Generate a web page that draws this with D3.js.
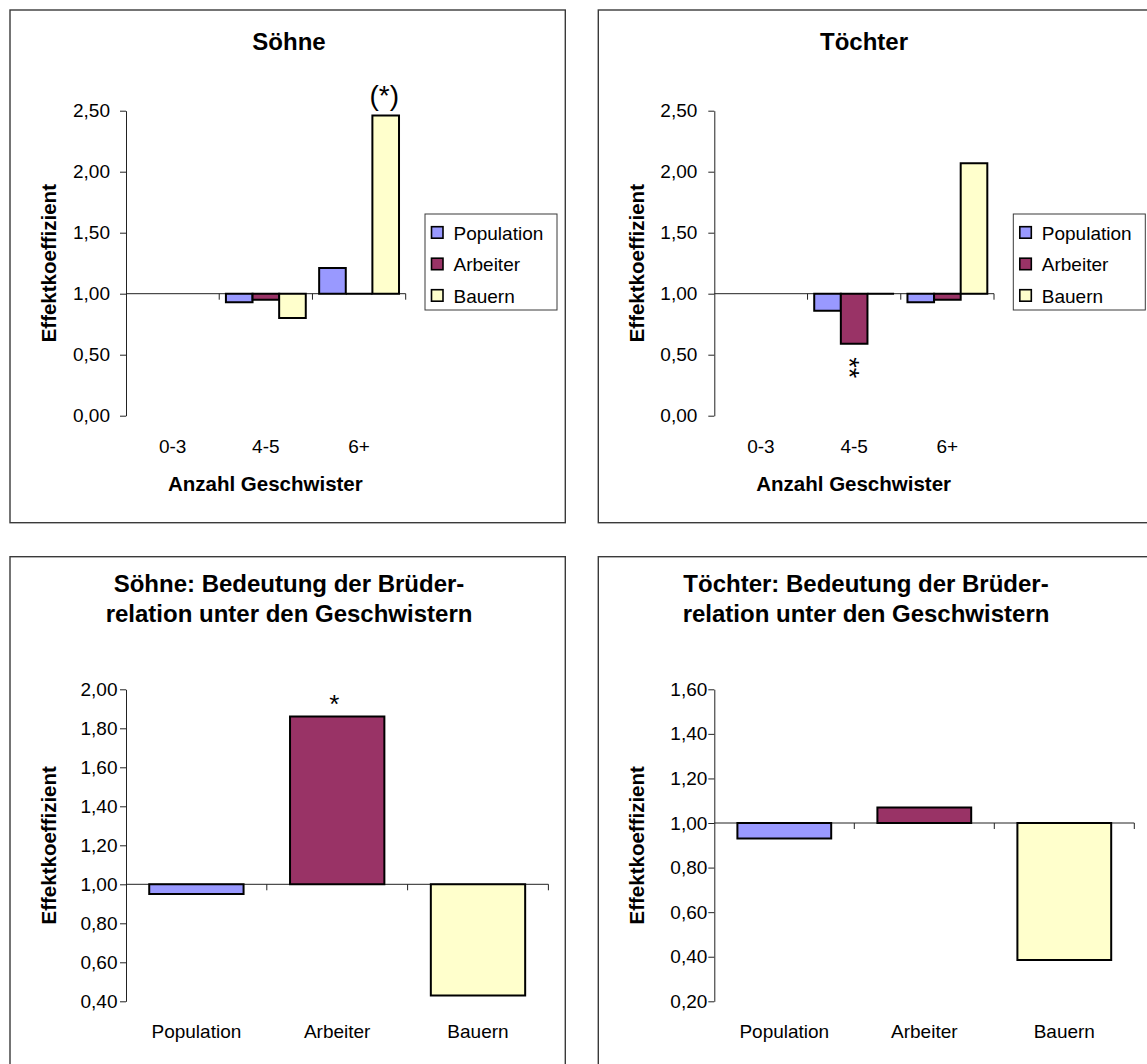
<!DOCTYPE html>
<html><head><meta charset="utf-8">
<script src="https://cdn.jsdelivr.net/npm/d3@7"></script>
<style>
body{margin:0;background:#fff}
svg{display:block}
text{font-family:"Liberation Sans",Arial,sans-serif;fill:#000}
</style>
</head><body>
<svg id="c" width="1147" height="1064"></svg>
<script>
// ---------- data ----------
const siblingCategories = ["0-3", "4-5", "6+"];
const seriesNames = ["Population", "Arbeiter", "Bauern"];
const seriesColors = ["#9999FF", "#993366", "#FFFFCC"];

const sonsPopulation = [null, 0.93, 1.21];
const sonsArbeiter   = [null, 0.95, 1.00];
const sonsBauern     = [null, 0.80, 2.46];

const daughtersPopulation = [null, 0.86, 0.93];
const daughtersArbeiter   = [null, 0.59, 0.95];
const daughtersBauern     = [null, 1.00, 2.07];

const brotherCategories = ["Population", "Arbeiter", "Bauern"];
const sonsBrotherValues = [0.95, 1.86, 0.43];
const daughtersBrotherValues = [0.93, 1.07, 0.385];

const siblingTicks = [0, 0.5, 1.0, 1.5, 2.0, 2.5];
const sonsBrotherTicks = [0.4, 0.6, 0.8, 1.0, 1.2, 1.4, 1.6, 1.8, 2.0];
const daughtersBrotherTicks = [0.2, 0.4, 0.6, 0.8, 1.0, 1.2, 1.4, 1.6];

const titles = {
  sons: ["Söhne"],
  daughters: ["Töchter"],
  sonsBrother: ["Söhne: Bedeutung der Brüder-", "relation unter den Geschwistern"],
  daughtersBrother: ["Töchter: Bedeutung der Brüder-", "relation unter den Geschwistern"]
};
const yAxisTitle = "Effektkoeffizient";
const xAxisTitle = "Anzahl Geschwister";

// ---------- helpers ----------
const fmt = d3.formatLocale({decimal: ",", thousands: ".", grouping: [3], currency: ["", "€"]}).format(".2f");
const svg = d3.select("#c");
const OX = 588.3;

function barPath(x0, w, yBase, yVal) {
  const y0 = Math.min(yBase, yVal), h = Math.abs(yBase - yVal);
  return `M${x0},${y0}h${w}v${h}h${-w}Z`;
}

function drawPanel(cfg) {
  const g = svg.append("g");
  // panel border
  g.append("rect")
    .attr("x", cfg.box[0]).attr("y", cfg.box[1])
    .attr("width", cfg.box[2]).attr("height", cfg.box[3])
    .attr("fill", "#fff").attr("stroke", "#3a3a3a").attr("stroke-width", 1.4);

  // title
  const t = g.append("text")
    .attr("text-anchor", "middle")
    .attr("font-weight", "bold").attr("font-size", cfg.titleSize);
  cfg.title.forEach((line, i) => {
    t.append("tspan").attr("x", cfg.titleX).attr("y", cfg.titleY[i]).text(line);
  });

  const y = d3.scaleLinear().domain(cfg.domain).range([cfg.plot.bottom, cfg.plot.top]);
  const xAxisBand = d3.scaleBand().domain(cfg.categories).range([cfg.plot.left, cfg.plot.right]);

  // y axis
  const yAx = d3.axisLeft(y).tickValues(cfg.ticks).tickFormat(fmt)
    .tickSize(6).tickPadding(cfg.tickPadding).tickSizeOuter(0);
  const ya = g.append("g").attr("transform", `translate(${cfg.plot.left},0)`).call(yAx);
  ya.select(".domain").attr("stroke", "#222").attr("stroke-width", 1);
  ya.selectAll(".tick line").attr("stroke", "#222");
  ya.selectAll(".tick text").attr("font-size", 19).attr("fill", "#000")
    .style("font-family", '"Liberation Sans",Arial,sans-serif');

  // x axis line at base (1,00), ticks at category boundaries
  const yb = y(1);
  g.append("line")
    .attr("x1", cfg.plot.left).attr("x2", cfg.plot.right)
    .attr("y1", yb).attr("y2", yb)
    .attr("stroke", "#222").attr("stroke-width", 1);
  g.selectAll(".xtick").data(cfg.categories).enter().append("line")
    .attr("x1", d => xAxisBand(d) + xAxisBand.bandwidth())
    .attr("x2", d => xAxisBand(d) + xAxisBand.bandwidth())
    .attr("y1", yb).attr("y2", yb + 6)
    .attr("stroke", "#222").attr("stroke-width", 1);

  // category labels
  g.selectAll(".clabel").data(cfg.categories).enter().append("text")
    .attr("x", d => xAxisBand(d) + xAxisBand.bandwidth() / 2)
    .attr("y", cfg.catLabelY)
    .attr("text-anchor", "middle").attr("font-size", 19)
    .text(d => d);

  // bars
  const bars = [];
  if (cfg.series) {
    const outer = d3.scaleBand().domain(cfg.categories).range([cfg.plot.left, cfg.plot.right])
      .paddingInner(cfg.gap).paddingOuter(cfg.gap / 2);
    const inner = d3.scaleBand().domain(seriesNames).range([0, outer.bandwidth()]);
    cfg.series.forEach((vals, si) => {
      vals.forEach((v, ci) => {
        if (v == null) return;
        const c = cfg.categories[ci];
        bars.push({x: outer(c) + inner(seriesNames[si]), w: inner.bandwidth(), v, color: seriesColors[si],
                   cat: c, ser: seriesNames[si]});
      });
    });
  } else {
    const outer = d3.scaleBand().domain(cfg.categories).range([cfg.plot.left, cfg.plot.right])
      .paddingInner(cfg.gap).paddingOuter(cfg.gap / 2);
    cfg.values.forEach((v, ci) => {
      const c = cfg.categories[ci];
      bars.push({x: outer(c), w: outer.bandwidth(), v, color: seriesColors[ci], cat: c, ser: c});
    });
  }
  g.selectAll(".bar").data(bars).enter().append("path")
    .attr("d", d => barPath(d.x, d.w, yb, y(d.v)))
    .attr("fill", d => d.color)
    .attr("stroke", "#000").attr("stroke-width", 2).attr("stroke-linejoin", "miter");

  // annotations
  (cfg.annotations || []).forEach(a => {
    const b = bars.find(d => d.cat === a.cat && d.ser === a.ser);
    const cx = b.x + b.w / 2;
    if (a.rotate) {
      const yEdge = y(b.v);
      g.append("text")
        .attr("transform", `translate(${cx - 0.573 * a.size + a.dx},${yEdge + a.dy}) rotate(90)`)
        .attr("font-size", a.size).text(a.text);
    } else {
      g.append("text")
        .attr("x", cx + a.dx).attr("y", y(b.v) + a.dy)
        .attr("text-anchor", "middle").attr("font-size", a.size).text(a.text);
    }
  });

  // y axis title
  g.append("text")
    .attr("transform", `translate(${cfg.yTitleX},${(cfg.plot.top + cfg.plot.bottom) / 2}) rotate(-90)`)
    .attr("text-anchor", "middle").attr("font-weight", "bold").attr("font-size", 20.5)
    .text(yAxisTitle);

  // x axis title
  if (cfg.xTitle) {
    g.append("text")
      .attr("x", (cfg.plot.left + cfg.plot.right) / 2 - 0.5).attr("y", cfg.xTitleY)
      .attr("text-anchor", "middle").attr("font-weight", "bold").attr("font-size", 20.5)
      .text(cfg.xTitle);
  }

  // legend
  if (cfg.legend) {
    const L = cfg.legend;
    const lg = g.append("g");
    lg.append("rect").attr("x", L.x).attr("y", L.y).attr("width", L.w).attr("height", L.h)
      .attr("fill", "#fff").attr("stroke", "#3a3a3a").attr("stroke-width", 1);
    seriesNames.forEach((s, i) => {
      const cy = L.y + 18.7 + i * 31.5;
      lg.append("rect").attr("x", L.x + 6.5).attr("y", cy - 6).attr("width", 11.5).attr("height", 11.5)
        .attr("fill", seriesColors[i]).attr("stroke", "#000").attr("stroke-width", 1.6);
      lg.append("text").attr("x", L.x + 28.5).attr("y", cy + 6.8).attr("font-size", 19).text(s);
    });
  }
}

// ---------- panels ----------
const topPlot = {left: 126, right: 405.7, top: 110.7, bottom: 415.7};
const botPlot = {left: 126, right: 548.4, top: 689.3, bottom: 1001.3};
const shift = (p, dx) => ({left: p.left + dx, right: p.right + dx, top: p.top, bottom: p.bottom});

drawPanel({
  box: [10, 10, 555.3, 512.7],
  title: titles.sons, titleX: 289, titleY: [49.5], titleSize: 24,
  plot: topPlot, domain: [0, 2.5], ticks: siblingTicks, tickPadding: 10,
  categories: siblingCategories, series: [sonsPopulation, sonsArbeiter, sonsBauern], gap: 0.1435,
  catLabelY: 452.7, xTitle: xAxisTitle, xTitleY: 490.5, yTitleX: 56,
  legend: {x: 425, y: 214, w: 132, h: 96},
  annotations: [{cat: "6+", ser: "Bauern", text: "(*)", size: 28, dx: -1.5, dy: -10.5}]
});

drawPanel({
  box: [10 + OX, 10, 555.3, 512.7],
  title: titles.daughters, titleX: 864, titleY: [49.5], titleSize: 24,
  plot: shift(topPlot, OX), domain: [0, 2.5], ticks: siblingTicks, tickPadding: 11,
  categories: siblingCategories, series: [daughtersPopulation, daughtersArbeiter, daughtersBauern], gap: 0.1435,
  catLabelY: 452.7, xTitle: xAxisTitle, xTitleY: 490.5, yTitleX: 56 + OX,
  legend: {x: 425 + OX, y: 214, w: 132, h: 96},
  annotations: [{cat: "4-5", ser: "Arbeiter", text: "**", size: 27, rotate: true, dx: 1.3, dy: 13.5}]
});

drawPanel({
  box: [10, 556.7, 555.3, 512.7],
  title: titles.sonsBrother, titleX: 289, titleY: [592, 622], titleSize: 24,
  plot: botPlot, domain: [0.4, 2.0], ticks: sonsBrotherTicks, tickPadding: 2.5,
  categories: brotherCategories, values: sonsBrotherValues, gap: 0.33,
  catLabelY: 1038, yTitleX: 56,
  annotations: [{cat: "Arbeiter", ser: "Arbeiter", text: "*", size: 26, dx: -3, dy: -3.6}]
});

drawPanel({
  box: [10 + OX, 556.7, 555.3, 512.7],
  title: titles.daughtersBrother, titleX: 866, titleY: [592, 622], titleSize: 24,
  plot: {left: 714.3, right: 1134.3, top: 689.3, bottom: 1001.3}, domain: [0.2, 1.6], ticks: daughtersBrotherTicks, tickPadding: 1,
  categories: brotherCategories, values: daughtersBrotherValues, gap: 0.33,
  catLabelY: 1038, yTitleX: 56 + OX
});
</script>
</body></html>
